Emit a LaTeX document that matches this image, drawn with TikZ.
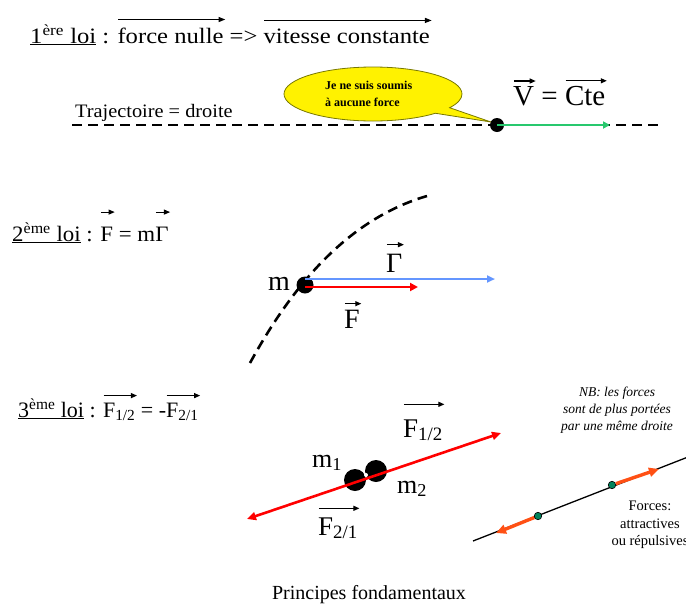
\documentclass[tikz,border=0pt]{standalone}
\usepackage{fontspec}
\setmainfont{Liberation Serif}
\usetikzlibrary{arrows.meta,shapes.callouts}
% vector arrow over a text, with an adjustable gap
\newsavebox\vecbox
\newlength\vecwd
\makeatletter
\newcommand\vect[2][3pt]{%
  \sbox\vecbox{#2}%
  \setlength\vecwd{\wd\vecbox}%
  \vbox{\offinterlineskip
    \hbox to\vecwd{\tikz[baseline=0pt]{\pgf@relevantforpicturesizetrue
       \draw[black, line width=1.1pt, line cap=butt,
       -{Triangle[length=6pt,width=5pt]}] (0pt,0pt) -- (\vecwd+1pt,0pt);}\hss}%
    \kern#1\copy\vecbox}}
\makeatother
\newcommand\widen[2][1.1]{\scalebox{#1}[1]{#2}}
\definecolor{vgreen}{RGB}{40,200,110}
\definecolor{gblue}{RGB}{100,150,255}
\definecolor{forange}{RGB}{255,80,20}
\definecolor{dgreen}{RGB}{0,130,90}
\definecolor{bubbleedge}{RGB}{120,120,0}
\begin{document}
\begin{tikzpicture}[x=1pt,y=-1pt,
  law/.style={font=\fontsize{22}{26}\selectfont, anchor=base west, inner sep=0pt},
  lbl/.style={font=\fontsize{28}{32}\selectfont, anchor=base west, inner sep=0pt},
  traj/.style={line width=2.6pt, dash pattern=on 10pt off 6pt},
  mass/.style={circle, fill=black, inner sep=0pt, minimum size=#1},
  vec/.style={line width=2.8pt, -{Triangle[length=8pt,width=8pt]}},
  ovec/.style={line width=3.4pt, -{Triangle[length=10pt,width=9pt]}},
  bivec/.style={line width=2.6pt, {Triangle[length=9pt,width=8pt]}-{Triangle[length=9pt,width=8pt]}},
  gdot/.style={circle, fill=dgreen, draw=black, line width=0.6pt, inner sep=0pt, minimum size=7.5pt},
  small/.style={inner sep=0pt, align=center}
]
\useasboundingbox (0,0) rectangle (686,603);

% ---------- 1st law ----------
\node[law] (t1) at (30,43) {\widen[1.12]{\underline{1\textsuperscript{ère} loi} : \vect[5.5pt]{force nulle} => \vect[5.5pt]{vitesse constante}}};
\node[inner sep=0pt, anchor=base west, font=\fontsize{19}{22}\selectfont] (traj) at (75,117) {\widen[1.07]{Trajectoire = droite}};
\coordinate (l1a) at (72,125);
\coordinate (l1b) at (658,125);
\node[mass=14pt] (p1) at (497,125) {};
\coordinate (vend) at (610,125);
\draw[traj] (l1a) -- (p1.west);
\draw[traj] (p1.east) -- (l1b);
\draw[vgreen, line width=1.8pt, -{Triangle[length=7pt,width=7pt]}] (p1.center) -- (vend);
\node[ellipse callout, fill=yellow, draw=bubbleedge, line width=0.8pt,
      minimum width=178pt, minimum height=54pt, inner sep=0pt,
      callout absolute pointer={(491,122)}] (bubble) at (373,94) {};
\node[small, align=left, anchor=west, font=\fontsize{12}{17}\selectfont\bfseries] (btext) at (325,94) {Je ne suis soumis\\à aucune force};
\node[lbl, font=\fontsize{29}{33}\selectfont] (vcte) at (513,105) {\vect[2.5pt]{V} = \vect[2.5pt]{Cte}};

% ---------- 2nd law ----------
\node[law] (t2) at (12,241) {\widen[1.04]{\underline{2\textsuperscript{ème} loi} : \vect[12pt]{F} = m\vect[12pt]{Γ}}};
\coordinate (arcA) at (250,363);
\coordinate (arcB) at (427,196);
\draw[traj] (arcA) .. controls (290,290) and (345,220) .. (arcB);
\node[mass=17pt] (p2) at (305,285) {};
\coordinate (gend) at (495,279);
\coordinate (fend) at (418,287);
\draw[gblue, line width=2.6pt, -{Triangle[length=8pt,width=7pt]}] (p2.center |- gend) -- (gend);
\draw[red, vec] (p2.center |- fend) -- (fend);
\node[lbl, anchor=base east] (mlab) at (290,290) {m};
\node[lbl] (glab) at (386,272) {\vect[6.5pt]{Γ}};
\node[lbl] (flab) at (344,328) {\vect[3.5pt]{F}};

% ---------- 3rd law ----------
\node[law] (t3) at (18,417) {\underline{3\textsuperscript{ème} loi} : \vect[4.5pt]{F\textsubscript{1/2}} = -\vect[4.5pt]{F\textsubscript{2/1}}};
\coordinate (rA) at (247,519);
\coordinate (rB) at (501,433);
\node[mass=22pt] (m1) at (355,480) {};
\node[mass=22pt] (m2) at (376,471) {};
\draw[red, bivec] (rA) -- (rB);
\node[circle, fill=white, inner sep=0pt, minimum size=4pt] (contact) at (366,475) {};
\node[lbl, font=\fontsize{26}{30}\selectfont] (m1lab) at (312,467) {m\textsubscript{1}};
\node[lbl, font=\fontsize{26}{30}\selectfont] (m2lab) at (397,493) {m\textsubscript{2}};
\node[lbl, font=\fontsize{27}{31}\selectfont] (f12) at (403,437) {\vect[12.5pt]{F\textsubscript{1/2}}};
\node[lbl, font=\fontsize{27}{31}\selectfont] (f21) at (318,535) {\vect[6.5pt]{F\textsubscript{2/1}}};

% ---------- NB ----------
\node[small, font=\fontsize{13.5}{17}\selectfont\itshape] (nb) at (617,410) {NB: les forces\\sont de plus portées\\par une même droite};
\coordinate (dA) at (473,541);
\coordinate (dB) at (688,457);
\draw[line width=1.3pt] (dA) -- (dB);
\node[gdot] (g1) at (538,516) {};
\node[gdot] (g2) at (612,485) {};
\coordinate (o1) at (496,533);
\coordinate (o2) at (659,469);
\draw[forange, ovec] (g2) -- (o2);
\draw[forange, ovec] (g1) -- (o1);
\node[small, font=\fontsize{14.5}{17.5}\selectfont] (forces) at (650,525) {Forces:\\attractives\\ou répulsives};

% ---------- caption ----------
\node[inner sep=0pt, anchor=base, font=\fontsize{20}{23}\selectfont] (cap) at (369,599) {Principes fondamentaux};
\end{tikzpicture}
\end{document}
